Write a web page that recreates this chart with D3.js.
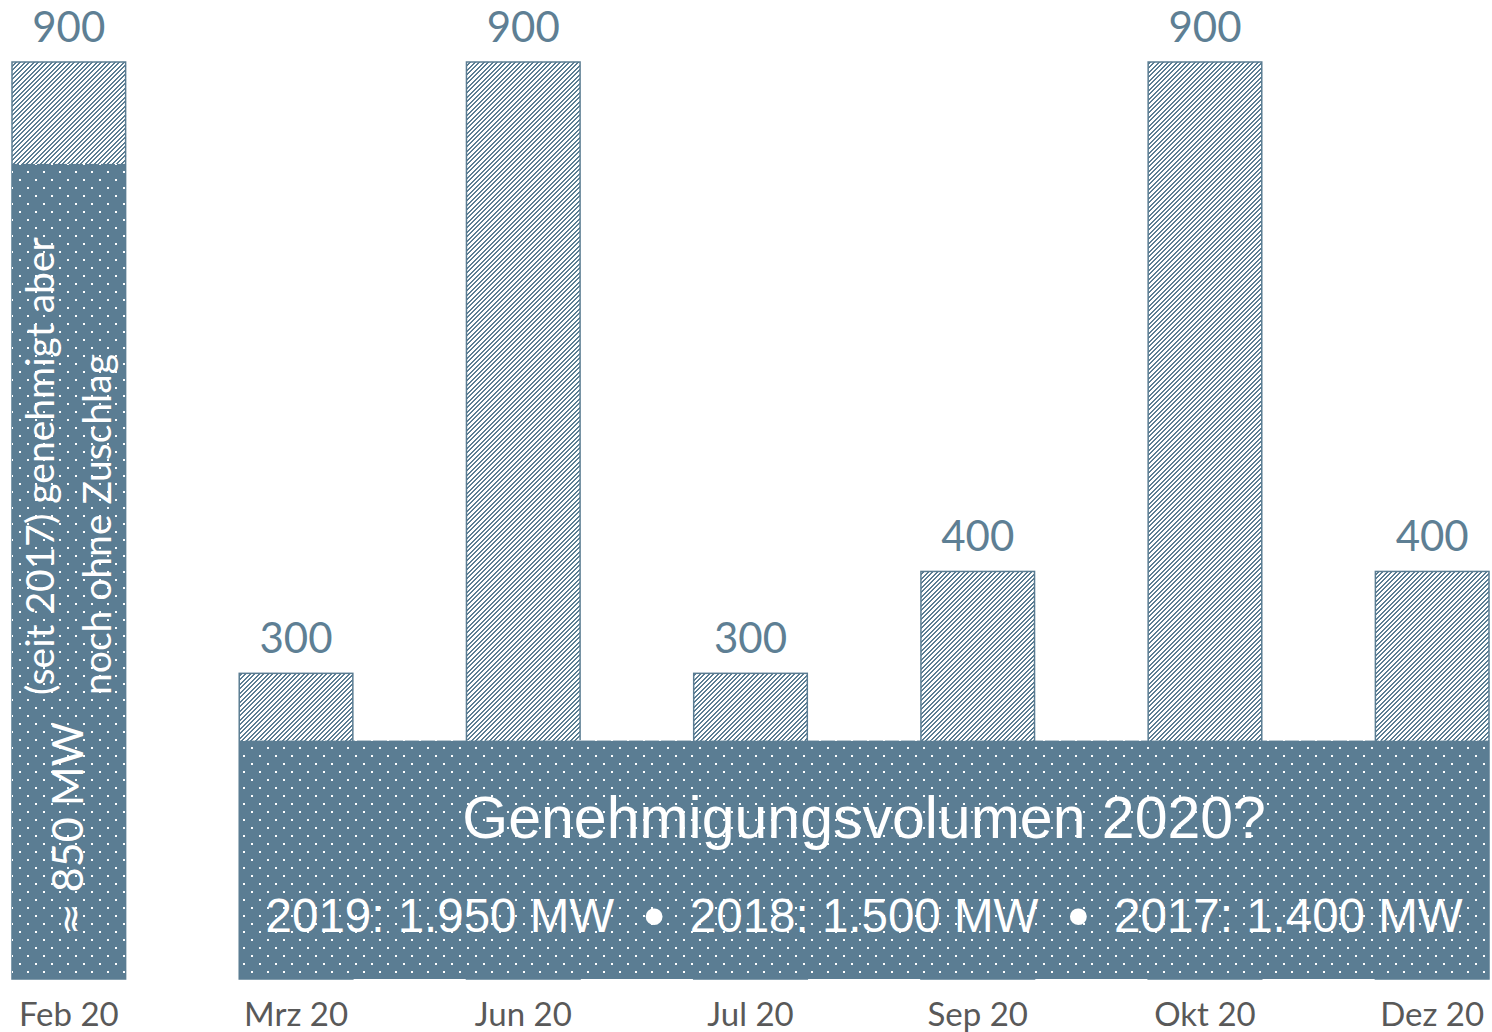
<!DOCTYPE html>
<html>
<head>
<meta charset="utf-8">
<script src="https://cdn.jsdelivr.net/npm/d3@7"></script>
<style>
  html, body { margin: 0; padding: 0; background: #fff; }
  #chart { width: 1492px; height: 1032px; }
</style>
</head>
<body>
<div id="chart"></div>
<script>
// tender rounds 2020 (MW)
const months = ["Feb 20", "Mrz 20", "Jun 20", "Jul 20", "Sep 20", "Okt 20", "Dez 20"];
const volumes = [900, 300, 900, 300, 400, 900, 400];
// approved but not yet awarded (Feb bar, dotted part)
const approvedFeb = 800;
// height of the "Genehmigungsvolumen" box, same scale
const approvalBox = 234;
const boxTitle = "Genehmigungsvolumen 2020?";
const pastVolumes = ["2019: 1.950 MW", "2018: 1.500 MW", "2017: 1.400 MW"];
const febNote = ["(seit 2017) genehmigt aber", "noch ohne Zuschlag"];
const febValue = ["≈", " 850 MW"];

const width = 1492, height = 1032;
const barColor = "#5b7d93";

const svg = d3.select("#chart").append("svg")
    .attr("width", width)
    .attr("height", height);

const defs = svg.append("defs");

// diagonal hatch, drawn pixel by pixel so it stays crisp (9px tile, 2 stripes)
const hatch = defs.append("pattern")
    .attr("id", "hatch")
    .attr("patternUnits", "userSpaceOnUse")
    .attr("width", 9)
    .attr("height", 9);
hatch.append("rect").attr("width", 9).attr("height", 9).attr("fill", "#fff");
const hatchCells = d3.cross(d3.range(9), d3.range(9))
    .filter(([i, j]) => [0, 1, 5, 6].includes((i + j) % 9));
hatch.selectAll("rect.px")
    .data(hatchCells)
    .enter()
    .append("rect")
    .attr("class", "px")
    .attr("x", d => d[0])
    .attr("y", d => d[1])
    .attr("width", 1)
    .attr("height", 1)
    .attr("fill", barColor);

// white dots on blue
const dots = defs.append("pattern")
    .attr("id", "dots")
    .attr("patternUnits", "userSpaceOnUse")
    .attr("width", 16)
    .attr("height", 16);
dots.append("rect").attr("width", 16).attr("height", 16).attr("fill", barColor);
dots.append("rect").attr("x", 3).attr("y", 3).attr("width", 2).attr("height", 2).attr("fill", "#fff");
dots.append("rect").attr("x", 11).attr("y", 11).attr("width", 2).attr("height", 2).attr("fill", "#fff");

const x = d3.scaleBand()
    .domain(months)
    .range([12, 1489])
    .paddingInner(0.5)
    .paddingOuter(0);

const y = d3.scaleLinear()
    .domain([0, 900])
    .range([979, 62]);

// hatched bars
svg.append("g")
    .selectAll("rect")
    .data(months)
    .enter()
    .append("rect")
    .attr("x", d => x(d))
    .attr("y", (d, i) => y(volumes[i]))
    .attr("width", x.bandwidth())
    .attr("height", (d, i) => y(0) - y(volumes[i]))
    .attr("fill", "url(#hatch)")
    .attr("stroke", barColor)
    .attr("stroke-width", 1.5);

// value labels
svg.append("g")
    .selectAll("text")
    .data(months)
    .enter()
    .append("text")
    .attr("x", d => x(d) + x.bandwidth() / 2)
    .attr("y", (d, i) => y(volumes[i]) - 20)
    .attr("text-anchor", "middle")
    .attr("font-family", "Lato, 'Open Sans', sans-serif")
    .attr("font-size", "42px")
    .attr("fill", "#5e7f94")
    .text((d, i) => volumes[i]);

// Feb: approved part
const febX = x(months[0]);
svg.append("rect")
    .attr("x", febX)
    .attr("y", y(approvedFeb))
    .attr("width", x.bandwidth())
    .attr("height", y(0) - y(approvedFeb))
    .attr("fill", "url(#dots)");

// Feb rotated notes
const febCx = febX + x.bandwidth() / 2;
const febText = svg.append("text")
    .attr("transform", `translate(${febCx + 14},935) rotate(-90)`)
    .attr("font-family", "Lato, 'Open Sans', sans-serif")
    .attr("font-size", "43px")
    .attr("fill", "#fff")
    .style("white-space", "pre");
febText.append("tspan")
    .attr("font-family", "'DejaVu Sans', sans-serif")
    .attr("font-size", "38px")
    .text(febValue[0]);
febText.append("tspan").text(febValue[1]);

svg.append("g")
    .selectAll("text")
    .data(febNote)
    .enter()
    .append("text")
    .attr("transform", (d, i) => `translate(${febCx - 15 + i * 57},695) rotate(-90)`)
    .attr("font-family", "Lato, 'Open Sans', sans-serif")
    .attr("font-size", "39px")
    .attr("fill", "#fff")
    .text(d => d);

// approval box across Mrz..Dez
const boxX0 = x(months[1]);
const boxX1 = x(months[months.length - 1]) + x.bandwidth();
svg.append("rect")
    .attr("x", boxX0)
    .attr("y", y(approvalBox))
    .attr("width", boxX1 - boxX0)
    .attr("height", y(0) - y(approvalBox))
    .attr("fill", "url(#dots)");

const boxCx = (boxX0 + boxX1) / 2;
svg.append("text")
    .attr("x", boxCx)
    .attr("y", 838)
    .attr("text-anchor", "middle")
    .attr("font-family", "'Liberation Sans', Arial, sans-serif")
    .attr("font-size", "59px")
    .attr("fill", "#fff")
    .text(boxTitle);

// past volumes line, bullets between the years
const past = svg.append("text")
    .attr("x", boxCx)
    .attr("y", 932)
    .attr("text-anchor", "middle")
    .attr("font-family", "'Liberation Sans', Arial, sans-serif")
    .attr("font-size", "47.5px")
    .attr("fill", "#fff");
pastVolumes.forEach((t, i) => {
    if (i > 0) {
        past.append("tspan")
            .attr("dx", 29)
            .attr("dy", 5)
            .attr("font-size", "62px")
            .text("\u2022");
        past.append("tspan")
            .attr("dx", 25)
            .attr("dy", -5)
            .text(t);
    } else {
        past.append("tspan").text(t);
    }
});

// month axis labels
svg.append("g")
    .selectAll("text")
    .data(months)
    .enter()
    .append("text")
    .attr("x", d => x(d) + x.bandwidth() / 2)
    .attr("y", 1026)
    .attr("text-anchor", "middle")
    .attr("font-family", "Lato, 'Open Sans', sans-serif")
    .attr("font-size", "33px")
    .attr("fill", "#595959")
    .text(d => d);
</script>
</body>
</html>
